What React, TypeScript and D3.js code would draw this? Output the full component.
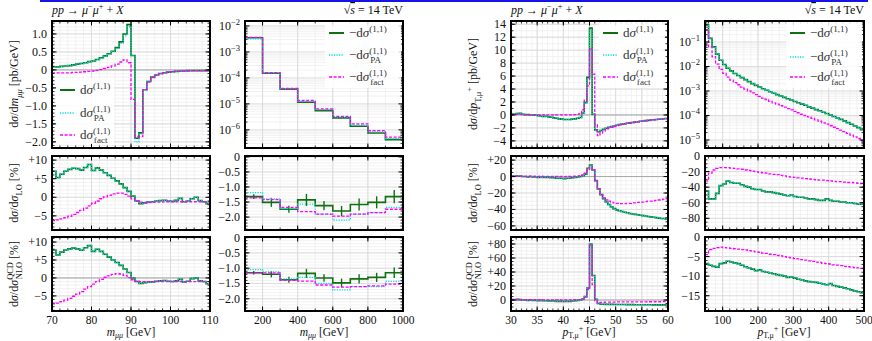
import React from 'react';
import * as d3 from 'd3';

const W = 872, H = 341;
const FONT = "'Liberation Serif', 'DejaVu Serif', serif";
const GREEN = '#107010', CYAN = '#00dcdc', MAGENTA = '#ff00ff';

// ---------- m_mumu 70-110 GeV, 1 GeV bins ----------
const mllLowEdges = d3.range(70, 111, 1);
const mllLowFull = [0.09, 0.08, 0.10, 0.11, 0.12, 0.14, 0.16, 0.18, 0.20, 0.23,
  0.25, 0.29, 0.34, 0.39, 0.45, 0.52, 0.62, 0.78, 1.00, 1.26,
  0.40, -1.90, -1.75, -0.55, -0.32, -0.20, -0.14, -0.10, -0.08, -0.06,
  -0.05, -0.04, -0.03, -0.03, -0.02, -0.02, -0.02, -0.02, -0.02, -0.02];
const mllLowPA = [0.09, 0.08, 0.10, 0.11, 0.12, 0.14, 0.16, 0.18, 0.20, 0.23,
  0.25, 0.29, 0.33, 0.38, 0.44, 0.51, 0.60, 0.74, 0.95, 1.20,
  0.40, -2.00, -1.78, -0.55, -0.32, -0.20, -0.14, -0.10, -0.08, -0.06,
  -0.05, -0.04, -0.03, -0.03, -0.02, -0.02, -0.02, -0.02, -0.02, -0.02];
const mllLowFact = [-0.08, -0.08, -0.08, -0.08, -0.08, -0.07, -0.07, -0.06, -0.05, -0.04,
  -0.03, -0.01, 0.01, 0.04, 0.07, 0.11, 0.16, 0.22, 0.28, 0.20,
  -0.82, -1.85, -1.85, -0.55, -0.34, -0.21, -0.15, -0.11, -0.08, -0.06,
  -0.05, -0.04, -0.04, -0.03, -0.03, -0.02, -0.02, -0.02, -0.02, -0.02];
const mllLowRelLOFull = [7.0, 5.3, 6.2, 7.0, 7.5, 7.8, 7.7, 7.3, 8.0, 8.8,
  7.2, 7.9, 7.3, 6.6, 5.9, 5.1, 4.4, 3.6, 2.6, 1.6,
  0.3, -1.0, -1.7, -1.5, -1.3, -1.2, -1.0, -0.9, -0.8, -1.0,
  -1.1, -0.8, -0.3, -1.2, -1.0, -0.4, 0.0, -0.9, -1.2, -1.7];
const mllLowRelLOFact = [-6.3, -6.1, -5.8, -5.5, -5.1, -4.6, -4.1, -3.5, -2.9, -2.3,
  -1.6, -1.0, -0.4, 0.1, 0.5, 0.9, 1.1, 1.1, 0.8, 0.3,
  -0.4, -1.0, -1.3, -1.4, -1.4, -1.3, -1.3, -1.3, -1.25, -1.2,
  -1.2, -1.2, -1.2, -1.2, -1.2, -1.2, -1.2, -1.2, -1.2, -1.25];
const mllLowRelNLOFull = [7.8, 6.4, 7.2, 7.8, 8.1, 8.3, 8.1, 7.7, 8.4, 9.0,
  7.4, 8.0, 7.4, 6.6, 5.8, 5.0, 4.3, 3.5, 2.5, 1.5,
  0.0, -1.0, -1.5, -1.3, -1.2, -1.1, -0.9, -0.8, -0.7, -0.9,
  -1.0, -0.8, -0.4, -1.1, -0.9, -0.2, 0.0, -0.8, -1.0, -1.6];
const mllLowRelNLOFact = [-7.2, -7.0, -6.6, -6.2, -5.7, -5.1, -4.5, -3.8, -3.1, -2.4,
  -1.7, -1.0, -0.4, 0.2, 0.6, 1.0, 1.2, 1.1, 0.7, 0.1,
  -0.5, -0.9, -1.0, -1.0, -1.0, -1.0, -1.0, -1.0, -1.0, -1.0,
  -1.0, -1.0, -1.0, -1.0, -1.0, -1.0, -1.0, -1.0, -1.0, -1.0];

// ---------- m_mumu 100-1000 GeV, 100 GeV bins ----------
const mllHighEdges = d3.range(100, 1001, 100);
const mllHighFull = [3.5e-3, 1.5e-4, 3.7e-5, 1.15e-5, 5.5e-6, 2.9e-6, 1.37e-6, 7.6e-7, 4.2e-7];
const mllHighPA = [3.2e-3, 1.55e-4, 3.8e-5, 1.25e-5, 6.0e-6, 3.1e-6, 1.5e-6, 8.3e-7, 4.6e-7];
const mllHighFact = [3.6e-3, 1.6e-4, 3.9e-5, 1.35e-5, 6.4e-6, 3.3e-6, 1.7e-6, 9.3e-7, 5.2e-7];
const mllHighRelLOFull = [-1.32, -1.51, -1.74, -1.43, -1.62, -1.80, -1.58, -1.51, -1.32];
const mllHighRelLOErr = [0.08, 0.15, 0.12, 0.2, 0.15, 0.17, 0.2, 0.2, 0.22];
const mllHighRelLOPA = [-1.19, -1.40, -1.72, -1.57, -1.90, -2.10, -1.90, -1.85, -1.68];
const mllHighRelLOFact = [-1.36, -1.42, -1.68, -1.82, -1.90, -1.97, -1.90, -1.85, -1.74];
const mllHighRelNLOFull = [-1.15, -1.20, -1.38, -1.17, -1.32, -1.48, -1.35, -1.30, -1.15];
const mllHighRelNLOErr = [0.06, 0.1, 0.1, 0.15, 0.12, 0.14, 0.15, 0.15, 0.17];
const mllHighRelNLOPA = [-1.05, -1.12, -1.35, -1.30, -1.50, -1.71, -1.60, -1.60, -1.43];
const mllHighRelNLOFact = [-1.15, -1.15, -1.40, -1.42, -1.55, -1.62, -1.60, -1.58, -1.52];

// ---------- pT,mu+ 30-60 GeV, 0.5 GeV bins ----------
const ptLowEdges = d3.range(30, 60.01, 0.5);
const ptLowFull = [0.15, 0.12, 0.2, 0.25, 0.1, 0.05, 0.05, 0.0, 0.0, -0.05,
  -0.1, -0.2, -0.25, -0.2, -0.3, -0.35, -0.45, -0.5, -0.6, -0.65,
  -0.7, -0.7, -0.7, -0.65, -0.6, -0.5, -0.4, 0.3, 1.9, 5.8,
  13.4, 0.1, -2.3, -2.6, -2.4, -2.2, -2.05, -1.9, -1.8, -1.7,
  -1.6, -1.5, -1.42, -1.35, -1.28, -1.22, -1.16, -1.1, -1.04, -0.98,
  -0.93, -0.88, -0.83, -0.78, -0.74, -0.7, -0.66, -0.62, -0.58, -0.55];
const ptLowPA = [0.15, 0.12, 0.2, 0.25, 0.1, 0.05, 0.05, 0.0, 0.0, -0.05,
  -0.1, -0.2, -0.25, -0.2, -0.3, -0.35, -0.45, -0.5, -0.6, -0.65,
  -0.7, -0.7, -0.7, -0.65, -0.6, -0.5, -0.4, 0.3, 1.8, 5.6,
  13.2, 0.1, -2.3, -2.6, -2.4, -2.2, -2.05, -1.9, -1.8, -1.7,
  -1.6, -1.5, -1.42, -1.35, -1.28, -1.22, -1.16, -1.1, -1.04, -0.98,
  -0.93, -0.88, -0.83, -0.78, -0.74, -0.7, -0.66, -0.62, -0.58, -0.55];
const ptLowFact = [0.05, 0.05, 0.1, 0.1, 0.05, 0.05, 0.05, 0.0, 0.0, 0.0,
  0.0, 0.02, 0.0, 0.01, 0.0, 0.0, -0.02, 0.0, 0.0, 0.01,
  0.0, 0.0, 0.0, 0.02, 0.05, 0.1, 0.2, 0.8, 2.3, 4.5,
  10.2, 6.3, -1.5, -3.2, -2.8, -2.5, -2.25, -2.05, -1.9, -1.78,
  -1.66, -1.55, -1.46, -1.38, -1.3, -1.24, -1.18, -1.12, -1.06, -1.0,
  -0.95, -0.9, -0.85, -0.8, -0.76, -0.72, -0.68, -0.64, -0.6, -0.57];
const ptLowRelLOFull = [0.5, 0.3, 1.0, 0.5, 0.0, 0.0, -0.5, 0.0, -0.5, -0.5,
  -1.0, -0.5, -1.0, -1.0, -1.0, -1.5, -1.5, -2.0, -2.0, -2.0,
  -2.5, -2.0, -2.0, -1.5, -1.0, -0.5, 0.0, 1.0, 3.0, 10.0,
  14.0, 8.0, -5.0, -15.0, -22.0, -27.0, -31.0, -34.0, -37.0, -39.0,
  -40.5, -41.5, -42.5, -43.5, -44.0, -45.0, -45.5, -46.0, -46.5, -47.0,
  -47.5, -48.0, -48.5, -49.0, -49.5, -50.0, -50.5, -51.0, -51.0, -52.0];
const ptLowRelLOFact = [0.3, 0.5, 0.4, 0.6, 0.5, 0.3, 0.4, 0.5, 0.3, 0.4,
  0.2, 0.4, 0.3, 0.2, 0.3, 0.2, 0.1, 0.2, 0.0, 0.1,
  0.0, 0.1, 0.2, 0.3, 0.4, 0.6, 1.0, 2.0, 4.0, 8.0,
  11.0, 8.0, -5.0, -15.0, -22.0, -26.0, -28.5, -30.0, -31.0, -32.0,
  -32.5, -33.0, -33.0, -33.0, -32.5, -32.5, -32.0, -32.0, -31.5, -31.0,
  -31.0, -30.5, -30.0, -30.0, -29.5, -29.0, -28.5, -28.0, -27.5, -27.0];
const ptLowRelNLOFull = [0.5, 0.3, 1.0, 0.5, 0.0, 0.0, -0.5, 0.0, -0.5, -0.5,
  -1.0, -0.5, -1.0, -1.0, -1.2, -1.5, -1.5, -2.0, -2.0, -2.0,
  -2.2, -2.0, -2.0, -1.5, -1.0, -0.5, 0.0, 1.5, 5.0, 17.0,
  80.0, 35.0, 1.0, -5.0, -6.0, -6.0, -6.2, -6.3, -6.3, -6.4,
  -6.4, -6.5, -6.5, -6.5, -6.6, -6.6, -6.6, -6.7, -6.7, -6.7,
  -6.8, -6.8, -6.8, -6.8, -6.9, -6.9, -6.9, -7.0, -7.0, -7.0];
const ptLowRelNLOFact = [0.3, 0.5, 0.4, 0.6, 0.5, 0.3, 0.4, 0.5, 0.3, 0.4,
  0.2, 0.4, 0.3, 0.2, 0.3, 0.2, 0.1, 0.2, 0.0, 0.1,
  0.0, 0.1, 0.2, 0.3, 0.4, 0.5, 0.5, 1.5, 4.0, 15.0,
  78.0, 22.0, -1.0, -4.0, -3.5, -3.2, -3.0, -3.0, -2.9, -2.9,
  -2.8, -2.8, -2.8, -2.7, -2.7, -2.7, -2.7, -2.6, -2.6, -2.6,
  -2.6, -2.6, -2.5, -2.5, -2.5, -2.5, -2.5, -2.5, -2.4, -2.4];

// ---------- pT,mu+ 50-500 GeV, 10 GeV bins ----------
const ptHighEdges = d3.range(50, 501, 10);
const ptHighFull = [0.50, 0.14, 0.063, 0.032, 0.018, 0.012, 8.5e-3, 6.6e-3, 5.2e-3, 4.3e-3,
  3.5e-3, 2.9e-3, 2.4e-3, 2.0e-3, 1.7e-3, 1.45e-3, 1.23e-3, 1.07e-3, 9.3e-4, 8.1e-4,
  7.1e-4, 6.2e-4, 5.5e-4, 4.8e-4, 4.3e-4, 3.7e-4, 3.3e-4, 2.9e-4, 2.6e-4, 2.2e-4,
  2.0e-4, 1.74e-4, 1.55e-4, 1.35e-4, 1.2e-4, 1.05e-4, 9.1e-5, 7.9e-5, 6.9e-5, 6.0e-5,
  5.1e-5, 4.4e-5, 3.7e-5, 3.2e-5, 2.6e-5];
const ptHighPA = [0.48, 0.14, 0.062, 0.032, 0.018, 0.012, 8.5e-3, 6.6e-3, 5.2e-3, 4.3e-3,
  3.5e-3, 2.9e-3, 2.4e-3, 2.0e-3, 1.7e-3, 1.45e-3, 1.23e-3, 1.07e-3, 9.3e-4, 8.1e-4,
  7.1e-4, 6.2e-4, 5.5e-4, 4.8e-4, 4.3e-4, 3.7e-4, 3.3e-4, 2.9e-4, 2.6e-4, 2.2e-4,
  2.0e-4, 1.74e-4, 1.55e-4, 1.35e-4, 1.2e-4, 1.05e-4, 9.1e-5, 7.9e-5, 6.9e-5, 6.0e-5,
  5.1e-5, 4.4e-5, 3.7e-5, 3.2e-5, 2.6e-5];
const ptHighFact = [0.32, 0.063, 0.025, 0.0126, 7.6e-3, 5.2e-3, 3.7e-3, 2.8e-3, 2.2e-3, 1.8e-3,
  1.45e-3, 1.2e-3, 1.0e-3, 8.3e-4, 7.1e-4, 6.0e-4, 5.1e-4, 4.5e-4, 3.8e-4, 3.3e-4,
  2.9e-4, 2.5e-4, 2.2e-4, 1.9e-4, 1.7e-4, 1.48e-4, 1.29e-4, 1.12e-4, 1.0e-4, 8.7e-5,
  7.6e-5, 6.6e-5, 5.8e-5, 5.0e-5, 4.4e-5, 3.8e-5, 3.3e-5, 2.9e-5, 2.5e-5, 2.2e-5,
  1.86e-5, 1.58e-5, 1.35e-5, 1.15e-5, 9.5e-6];
const ptHighRelLOFull = [-45, -55, -55, -48, -38, -36, -32, -34, -35, -35,
  -37, -39, -40, -42, -43, -43, -45, -46, -46, -47,
  -48, -49, -50, -51, -50, -52, -53, -53, -54, -55,
  -55, -56, -57, -57, -55, -57, -58, -58, -59, -59,
  -60, -60, -61, -62, -62];
const ptHighRelLOFact = [-32, -22, -18, -16, -15, -15, -15, -15.5, -16, -16.5,
  -17, -18, -18.5, -19.5, -20, -21, -21.5, -22, -23, -23.5,
  -24, -25, -25.5, -26.5, -27, -27.5, -28, -28.5, -29, -29.5,
  -30, -30.5, -31, -31, -31.5, -32, -32.5, -33, -33, -33.5,
  -34, -34, -34.5, -35, -35.5];
const ptHighRelNLOFull = [-6.8, -7.2, -7.5, -7.7, -6.8, -6.6, -6.2, -6.4, -6.6, -6.8,
  -7.2, -7.6, -7.9, -8.2, -8.6, -8.4, -8.8, -9.0, -9.2, -9.4,
  -9.6, -9.8, -10.0, -10.3, -10.2, -10.5, -10.8, -11.0, -11.2, -11.4,
  -11.5, -11.6, -11.8, -12.0, -12.2, -11.9, -12.4, -12.6, -12.8, -13.0,
  -13.2, -13.5, -13.8, -14.0, -14.2];
const ptHighRelNLOFact = [-4.5, -3.2, -2.9, -2.7, -2.6, -2.7, -2.8, -2.9, -3.0, -3.1,
  -3.2, -3.3, -3.5, -3.6, -3.8, -3.9, -4.1, -4.2, -4.4, -4.5,
  -4.7, -4.8, -5.0, -5.2, -5.3, -5.5, -5.6, -5.8, -5.9, -6.1,
  -6.2, -6.4, -6.5, -6.7, -6.8, -6.9, -7.1, -7.2, -7.3, -7.5,
  -7.6, -7.7, -7.8, -7.9, -8.0];

// ---------- layout ----------
const COL_A: [number, number] = [52, 210];
const COL_B: [number, number] = [245, 403];
const COL_C: [number, number] = [511, 668];
const COL_D: [number, number] = [705, 864];
const ROW_TOP: [number, number] = [21, 148];
const ROW_MID: [number, number] = [156, 230];
const ROW_BOT: [number, number] = [237, 311];

type Series = { values: number[]; kind: 'full' | 'pa' | 'fact'; errs?: number[] };
type Panel = {
  x: [number, number]; y: [number, number];
  xDomain: [number, number]; yDomain: [number, number];
  log?: boolean; edges: number[]; series: Series[];
  xMajor: number[]; xMinor: number[];
  yMajor: number[]; yMinor: number[];
  yFmt?: (v: number) => string;
  xLabels?: boolean; zero?: boolean;
};

const M = '\u2212';
const fmtSigned = (v: number) => (v > 0 ? '+' + v : v < 0 ? M + Math.abs(v) : '0');
const fmt1 = (v: number) => (v === 0 ? '0' : (v < 0 ? M : '') + Math.abs(v).toFixed(1));
const fmtPlain = (v: number) => (v < 0 ? M + Math.abs(v) : String(v));

const style = {
  full: { stroke: GREEN, width: 1.6, dash: undefined as string | undefined },
  pa: { stroke: CYAN, width: 1.3, dash: '1.2,1.3' },
  fact: { stroke: MAGENTA, width: 1.3, dash: '3,1.6' },
};

const tenths = (a: number, b: number) => d3.range(a, b + 1).map((k) => k / 10);

function PanelView({ p, id }: { p: Panel; id: string }) {
  const [x0, x1] = p.x;
  const [y0, y1] = p.y;
  const xs = d3.scaleLinear().domain(p.xDomain).range([x0, x1]);
  const ys: any = p.log
    ? d3.scaleLog().domain(p.yDomain).range([y1, y0]).clamp(true)
    : d3.scaleLinear().domain(p.yDomain).range([y1, y0]);
  const line = d3
    .line<[number, number]>()
    .x((d) => xs(d[0]))
    .y((d) => ys(d[1]))
    .curve(d3.curveStepAfter);
  const inX = (v: number) => v >= p.xDomain[0] - 1e-9 && v <= p.xDomain[1] + 1e-9;
  const inY = (v: number) => v >= p.yDomain[0] - 1e-9 && v <= p.yDomain[1] + 1e-9;

  let yMajor = p.yMajor, yMinor = p.yMinor;
  if (p.log) {
    const lo = Math.floor(Math.log10(p.yDomain[0]));
    const hi = Math.ceil(Math.log10(p.yDomain[1]));
    yMajor = []; yMinor = [];
    for (let k = lo; k <= hi; k++) {
      for (let m = 1; m <= 9; m++) {
        const v = m * Math.pow(10, k);
        if (!inY(v)) continue;
        if (m === 1) yMajor.push(v); else yMinor.push(v);
      }
    }
  }
  const xMaj = p.xMajor.filter(inX), xMin = p.xMinor.filter(inX);
  const yMaj = yMajor.filter(inY), yMin = yMinor.filter(inY);
  const clip = 'clip' + id;

  return (
    <g>
      <defs>
        <clipPath id={clip}>
          <rect x={x0} y={y0} width={x1 - x0} height={y1 - y0} />
        </clipPath>
      </defs>
      <rect x={x0} y={y0} width={x1 - x0} height={y1 - y0} fill="#fff" />
      <g clipPath={`url(#${clip})`}>
        {xMin.map((v, i) => (
          <line key={'gxm' + i} x1={xs(v)} x2={xs(v)} y1={y0} y2={y1} stroke="#ededed" strokeWidth={0.7} />
        ))}
        {yMin.map((v, i) => (
          <line key={'gym' + i} x1={x0} x2={x1} y1={ys(v)} y2={ys(v)} stroke="#ededed" strokeWidth={0.7} />
        ))}
        {xMaj.map((v, i) => (
          <line key={'gx' + i} x1={xs(v)} x2={xs(v)} y1={y0} y2={y1} stroke="#d9d9d9" strokeWidth={0.9} />
        ))}
        {yMaj.map((v, i) => (
          <line key={'gy' + i} x1={x0} x2={x1} y1={ys(v)} y2={ys(v)} stroke="#d9d9d9" strokeWidth={0.9} />
        ))}
        {p.zero && (
          <line x1={x0} x2={x1} y1={ys(0)} y2={ys(0)} stroke="#a8a8a8" strokeWidth={1} />
        )}
        {p.series.map((s, si) => {
          const n = s.values.length;
          const pts: [number, number][] = s.values.map((v, i) => [p.edges[i], v] as [number, number]);
          pts.push([p.edges[n], s.values[n - 1]]);
          const st = style[s.kind];
          return (
            <g key={'s' + si}>
              <path d={line(pts) || ''} fill="none" stroke={st.stroke} strokeWidth={st.width}
                strokeDasharray={st.dash} strokeLinejoin="miter" />
              {s.errs && s.errs.map((e, i) => {
                const xc = xs((p.edges[i] + p.edges[i + 1]) / 2);
                return (
                  <line key={'e' + i} x1={xc} x2={xc} y1={ys(s.values[i] - e)} y2={ys(s.values[i] + e)}
                    stroke={st.stroke} strokeWidth={1.4} />
                );
              })}
            </g>
          );
        })}
      </g>
      {xMaj.map((v, i) => (
        <g key={'tx' + i}>
          <line x1={xs(v)} x2={xs(v)} y1={y1} y2={y1 - 4.5} stroke="#000" strokeWidth={1} />
          <line x1={xs(v)} x2={xs(v)} y1={y0} y2={y0 + 4.5} stroke="#000" strokeWidth={1} />
        </g>
      ))}
      {xMin.map((v, i) => (
        <g key={'txm' + i}>
          <line x1={xs(v)} x2={xs(v)} y1={y1} y2={y1 - 2.5} stroke="#000" strokeWidth={0.8} />
          <line x1={xs(v)} x2={xs(v)} y1={y0} y2={y0 + 2.5} stroke="#000" strokeWidth={0.8} />
        </g>
      ))}
      {yMaj.map((v, i) => (
        <g key={'ty' + i}>
          <line x1={x0} x2={x0 + 4.5} y1={ys(v)} y2={ys(v)} stroke="#000" strokeWidth={1} />
          <line x1={x1} x2={x1 - 4.5} y1={ys(v)} y2={ys(v)} stroke="#000" strokeWidth={1} />
        </g>
      ))}
      {yMin.map((v, i) => (
        <g key={'tym' + i}>
          <line x1={x0} x2={x0 + 2.5} y1={ys(v)} y2={ys(v)} stroke="#000" strokeWidth={0.8} />
          <line x1={x1} x2={x1 - 2.5} y1={ys(v)} y2={ys(v)} stroke="#000" strokeWidth={0.8} />
        </g>
      ))}
      <rect x={x0} y={y0} width={x1 - x0} height={y1 - y0} fill="none" stroke="#000" strokeWidth={2} />
      {yMaj.map((v, i) => (
        <text key={'ly' + i} x={x0 - 5} y={ys(v) + 4} textAnchor="end" fontSize={12} fill="#111">
          {p.log ? (
            <>
              <tspan>10</tspan>
              <tspan dy={-5} fontSize={8.5}>{M + Math.round(-Math.log10(v))}</tspan>
            </>
          ) : (p.yFmt ? p.yFmt(v) : String(v))}
        </text>
      ))}
      {p.xLabels && xMaj.map((v, i) => (
        <text key={'lx' + i} x={xs(v)} y={323.5} textAnchor="middle" fontSize={11.5} fill="#111">{v}</text>
      ))}
    </g>
  );
}

type Seg = { t: string; k?: 'sub' | 'sup'; it?: boolean; dx?: number; over?: boolean };
function Rich({ segs, size, subShift = 0.32 }: { segs: Seg[]; size: number; subShift?: number }) {
  let cur = 0;
  return (
    <>
      {segs.map((s, i) => {
        let target = 0, fs = size;
        if (s.k === 'sub') { target = size * subShift; fs = size * 0.7; }
        if (s.k === 'sup') { target = -size * 0.42; fs = size * 0.7; }
        const dy = target - cur;
        cur = target;
        return (
          <tspan key={i} dy={dy} dx={s.dx} fontSize={fs} fontStyle={s.it ? 'italic' : undefined}
            textDecoration={s.over ? 'overline' : undefined}>{s.t}</tspan>
        );
      })}
    </>
  );
}

function Legend({ x, ys, minus, bg }: { x: number; ys: number[]; minus: boolean; bg: [number, number, number, number] }) {
  const pre = minus ? M + 'd' : 'd';
  const entries: { kind: 'full' | 'pa' | 'fact'; sub?: string }[] = [
    { kind: 'full' }, { kind: 'pa', sub: 'PA' }, { kind: 'fact', sub: 'fact' },
  ];
  return (
    <g>
      <rect x={bg[0]} y={bg[1]} width={bg[2]} height={bg[3]} fill="#fff" opacity={0.85} />
      {entries.map((e, i) => {
        const st = style[e.kind];
        const y = ys[i];
        return (
          <g key={i}>
            <line x1={x} x2={x + 15} y1={y} y2={y} stroke={st.stroke} strokeWidth={st.width + 0.4} strokeDasharray={st.dash} />
            <text x={x + 20} y={y + 4} fontSize={13} fill="#333">
              <Rich size={13} segs={[
                { t: pre }, { t: 'σ', it: true }, { t: '(1,1)', k: 'sup' },
                ...(e.sub ? [{ t: e.sub, k: 'sub' as const, dx: -16.5 }] : []),
              ]} />
            </text>
          </g>
        );
      })}
    </g>
  );
}

function YTitle({ x, y, segs }: { x: number; y: number; segs: Seg[] }) {
  return (
    <text transform={`translate(${x},${y}) rotate(-90)`} textAnchor="middle" fontSize={12} fill="#111">
      <Rich size={12} segs={segs} />
    </text>
  );
}

export default function App() {
  const fullS = (v: number[], errs?: number[]): Series => ({ values: v, kind: 'full', errs });
  const paS = (v: number[]): Series => ({ values: v, kind: 'pa' });
  const factS = (v: number[]): Series => ({ values: v, kind: 'fact' });

  const xA = { xDomain: [70, 110] as [number, number], edges: mllLowEdges, xMajor: [70, 80, 90, 100, 110], xMinor: d3.range(70, 111, 2) };
  const xB = { xDomain: [100, 1000] as [number, number], edges: mllHighEdges, xMajor: [200, 400, 600, 800, 1000], xMinor: d3.range(100, 1001, 100) };
  const xC = { xDomain: [30, 60] as [number, number], edges: ptLowEdges, xMajor: [30, 35, 40, 45, 50, 55, 60], xMinor: d3.range(30, 61, 1) };
  const xD = { xDomain: [50, 500] as [number, number], edges: ptHighEdges, xMajor: [100, 200, 300, 400, 500], xMinor: d3.range(60, 501, 20) };

  const panels: Panel[] = [
    { ...xA, x: COL_A, y: ROW_TOP, yDomain: [-2.17, 1.36], yMajor: [-2, -1.5, -1, -0.5, 0, 0.5, 1], yMinor: tenths(-21, 13), yFmt: fmt1, zero: true,
      series: [fullS(mllLowFull), paS(mllLowPA), factS(mllLowFact)] },
    { ...xA, x: COL_A, y: ROW_MID, yDomain: [-8.8, 11.1], yMajor: [-5, 0, 5, 10], yMinor: d3.range(-8, 12, 1), yFmt: fmtSigned,
      series: [fullS(mllLowRelLOFull), paS(mllLowRelLOFull), factS(mllLowRelLOFact)] },
    { ...xA, x: COL_A, y: ROW_BOT, yDomain: [-9.2, 11.4], yMajor: [-5, 0, 5, 10], yMinor: d3.range(-9, 12, 1), yFmt: fmtSigned, xLabels: true, zero: true,
      series: [fullS(mllLowRelNLOFull), paS(mllLowRelNLOFull), factS(mllLowRelNLOFact)] },
    { ...xB, x: COL_B, y: ROW_TOP, yDomain: [2.0e-7, 1.55e-2], log: true, yMajor: [], yMinor: [],
      series: [fullS(mllHighFull), paS(mllHighPA), factS(mllHighFact)] },
    { ...xB, x: COL_B, y: ROW_MID, yDomain: [-2.43, 0.03], yMajor: [-2, -1.5, -1, -0.5, 0], yMinor: tenths(-24, 0), yFmt: fmt1,
      series: [fullS(mllHighRelLOFull, mllHighRelLOErr), paS(mllHighRelLOPA), factS(mllHighRelLOFact)] },
    { ...xB, x: COL_B, y: ROW_BOT, yDomain: [-2.4, 0.02], yMajor: [-2, -1.5, -1, -0.5, 0], yMinor: tenths(-24, 0), yFmt: fmt1, xLabels: true,
      series: [fullS(mllHighRelNLOFull, mllHighRelNLOErr), paS(mllHighRelNLOPA), factS(mllHighRelNLOFact)] },
    { ...xC, x: COL_C, y: ROW_TOP, yDomain: [-5.1, 14.5], yMajor: d3.range(-4, 15, 2), yMinor: d3.range(-5, 15, 1), yFmt: fmtPlain, zero: true,
      series: [fullS(ptLowFull), paS(ptLowPA), factS(ptLowFact)] },
    { ...xC, x: COL_C, y: ROW_MID, yDomain: [-65, 25], yMajor: [-60, -40, -20, 0, 20], yMinor: d3.range(-65, 26, 5), yFmt: fmtSigned, zero: true,
      series: [fullS(ptLowRelLOFull), paS(ptLowRelLOFull), factS(ptLowRelLOFact)] },
    { ...xC, x: COL_C, y: ROW_BOT, yDomain: [-15.7, 90], yMajor: [0, 20, 40, 60, 80], yMinor: d3.range(-15, 91, 5), yFmt: fmtSigned, xLabels: true, zero: true,
      series: [fullS(ptLowRelNLOFull), paS(ptLowRelNLOFull), factS(ptLowRelNLOFact)] },
    { ...xD, x: COL_D, y: ROW_TOP, yDomain: [4.7e-6, 0.72], log: true, yMajor: [], yMinor: [],
      series: [fullS(ptHighFull), paS(ptHighPA), factS(ptHighFact)] },
    { ...xD, x: COL_D, y: ROW_MID, yDomain: [-95, 0], yMajor: [-80, -60, -40, -20, 0], yMinor: d3.range(-95, 1, 5), yFmt: fmtPlain,
      series: [fullS(ptHighRelLOFull), paS(ptHighRelLOFull), factS(ptHighRelLOFact)] },
    { ...xD, x: COL_D, y: ROW_BOT, yDomain: [-18.9, 0], yMajor: [-15, -10, -5, 0], yMinor: d3.range(-18, 1, 1), yFmt: fmtPlain, xLabels: true,
      series: [fullS(ptHighRelNLOFull), paS(ptHighRelNLOFull), factS(ptHighRelNLOFact)] },
  ];

  const procSegs: Seg[] = [
    { t: 'pp', it: true }, { t: ' → ' }, { t: 'μ', it: true }, { t: M, k: 'sup' },
    { t: 'μ', it: true }, { t: '+', k: 'sup' }, { t: ' + ' }, { t: 'X', it: true },
  ];
  const rootSegs: Seg[] = [{ t: '√' }, { t: 's', it: true, over: true }, { t: ' = 14 TeV' }];

  const absMll: Seg[] = [{ t: 'd' }, { t: 'σ', it: true }, { t: '/d' }, { t: 'm', it: true }, { t: 'μμ', k: 'sub', it: true }, { t: ' [pb/GeV]' }];
  const absPt: Seg[] = [{ t: 'd' }, { t: 'σ', it: true }, { t: '/d' }, { t: 'p', it: true }, { t: 'T,μ', k: 'sub' }, { t: '+', k: 'sup' }, { t: ' [pb/GeV]' }];
  const relLO: Seg[] = [{ t: 'd' }, { t: 'σ', it: true }, { t: '/d' }, { t: 'σ', it: true }, { t: 'LO', k: 'sub' }, { t: ' [%]' }];
  const relNLO: Seg[] = [{ t: 'd' }, { t: 'σ', it: true }, { t: '/d' }, { t: 'σ', it: true }, { t: 'QCD', k: 'sup' }, { t: 'NLO', k: 'sub', dx: -17 }, { t: ' [%]' }];

  return (
    <svg width={W} height={H} style={{ position: 'absolute', left: 0, top: 0, background: '#fff' }} fontFamily={FONT}>
      <rect width={W} height={H} fill="#fff" />
      <rect x={40} y={0} width={828} height={2} fill="#1414e6" />
      {panels.map((p, i) => <PanelView key={i} p={p} id={'p' + i} />)}

      <Legend x={60} ys={[90, 113, 135]} minus={false} bg={[56, 78, 58, 66]} />
      <Legend x={329} ys={[33, 55, 77]} minus={true} bg={[325, 22, 76, 66]} />
      <Legend x={603} ys={[33, 55, 77]} minus={false} bg={[599, 22, 66, 66]} />
      <Legend x={790} ys={[33, 57, 77]} minus={true} bg={[786, 22, 76, 66]} />

      <text x={52} y={14} fontSize={12} fill="#111"><Rich size={12} segs={procSegs} /></text>
      <text x={403} y={14} fontSize={12} fill="#111" textAnchor="end"><Rich size={12} segs={rootSegs} /></text>
      <text x={511} y={14} fontSize={12} fill="#111"><Rich size={12} segs={procSegs} /></text>
      <text x={864} y={14} fontSize={12} fill="#111" textAnchor="end"><Rich size={12} segs={rootSegs} /></text>

      <YTitle x={18} y={84} segs={absMll} />
      <YTitle x={18} y={193} segs={relLO} />
      <YTitle x={18} y={274} segs={relNLO} />
      <YTitle x={477} y={84} segs={absPt} />
      <YTitle x={477} y={193} segs={relLO} />
      <YTitle x={477} y={274} segs={relNLO} />

      {[[131, 'mll'], [324, 'mll'], [589, 'pt'], [784, 'pt']].map(([cx, k], i) => (
        <text key={i} x={cx as number} y={336} textAnchor="middle" fontSize={11.5} fill="#111">
          {k === 'mll' ? (
            <Rich size={11.5} subShift={0.2} segs={[{ t: 'm', it: true }, { t: 'μμ', k: 'sub', it: true }, { t: ' [GeV]' }]} />
          ) : (
            <Rich size={11.5} subShift={0.2} segs={[{ t: 'p', it: true }, { t: 'T,μ', k: 'sub' }, { t: '+', k: 'sup' }, { t: ' [GeV]' }]} />
          )}
        </text>
      ))}
    </svg>
  );
}
